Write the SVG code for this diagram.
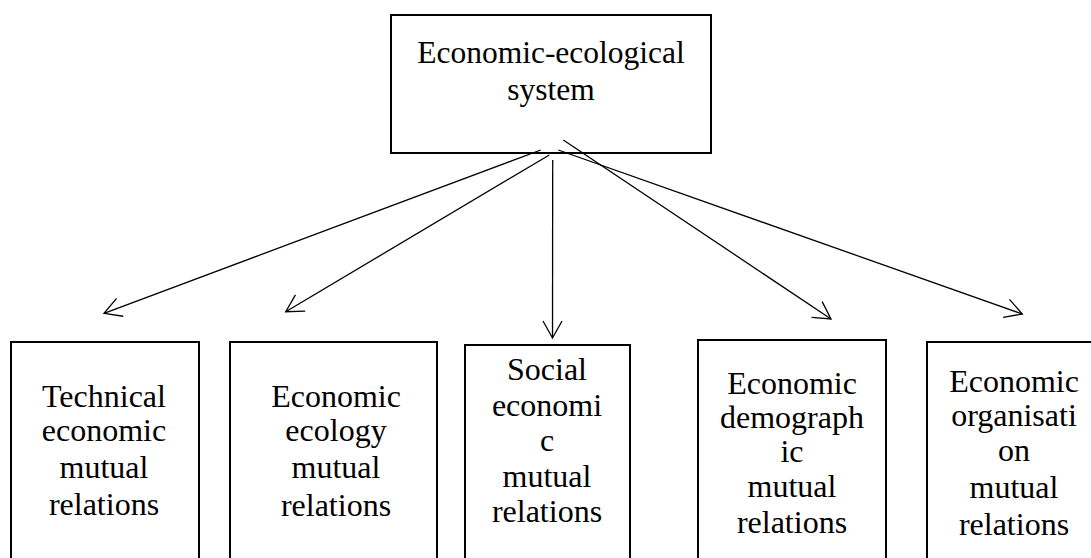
<svg xmlns="http://www.w3.org/2000/svg" width="1091" height="558" viewBox="0 0 1091 558">
<style>
.box{fill:#fff;stroke:#000;stroke-width:2}
.t{font-family:"Liberation Serif","Times New Roman",serif;font-size:32px;fill:#000;text-anchor:middle}
.top{font-size:31.5px}
.c{stroke:#000;stroke-width:1.3;fill:none;marker-end:url(#ah)}
</style>
<defs>
<marker id="ah" markerUnits="userSpaceOnUse" orient="auto" markerWidth="40" markerHeight="40" refX="0" refY="0" viewBox="-20 -20 40 40" overflow="visible">
<path d="M-17,-9.5 L0,0 L-17,9.5" fill="none" stroke="#000" stroke-width="1.3"/>
</marker>
</defs>
<rect width="1091" height="558" fill="#fff"/>
<g id="root">
<rect class="box" x="391" y="15" width="320" height="138"/>
<text class="t top" x="551" y="63">Economic-ecological</text>
<text class="t top" x="551" y="100">system</text>
</g>
<g id="connectors">
<line class="c" x1="540.7" y1="150" x2="104" y2="313.3"/>
<line class="c" x1="549.3" y1="155" x2="285.7" y2="311.7"/>
<line class="c" x1="552.7" y1="160" x2="552.5" y2="338"/>
<line class="c" x1="563.3" y1="140" x2="831" y2="319"/>
<line class="c" x1="558.3" y1="150" x2="1022.3" y2="314"/>
</g>
<g id="n1">
<rect class="box" x="11" y="342" width="188" height="230"/>
<text class="t" x="104" y="407">Technical</text>
<text class="t" x="104" y="441">economic</text>
<text class="t" x="104" y="478">mutual</text>
<text class="t" x="104" y="515">relations</text>
</g>
<g id="n2">
<rect class="box" x="230" y="342" width="207" height="230"/>
<text class="t" x="336" y="407">Economic</text>
<text class="t" x="336" y="441">ecology</text>
<text class="t" x="336" y="478">mutual</text>
<text class="t" x="336" y="516">relations</text>
</g>
<g id="n3">
<rect class="box" x="465" y="345" width="165" height="230"/>
<text class="t" x="547" y="380">Social</text>
<text class="t" x="547" y="416">economi</text>
<text class="t" x="547" y="451">c</text>
<text class="t" x="547" y="487">mutual</text>
<text class="t" x="547" y="522">relations</text>
</g>
<g id="n4">
<rect class="box" x="698" y="340" width="188" height="230"/>
<text class="t" x="792" y="394">Economic</text>
<text class="t" x="792" y="428">demograph</text>
<text class="t" x="792" y="462">ic</text>
<text class="t" x="792" y="497">mutual</text>
<text class="t" x="792" y="533">relations</text>
</g>
<g id="n5">
<rect class="box" x="927" y="342" width="175" height="230"/>
<text class="t" x="1014" y="392">Economic</text>
<text class="t" x="1014" y="426">organisati</text>
<text class="t" x="1014" y="461">on</text>
<text class="t" x="1014" y="498">mutual</text>
<text class="t" x="1014" y="535">relations</text>
</g>
</svg>
